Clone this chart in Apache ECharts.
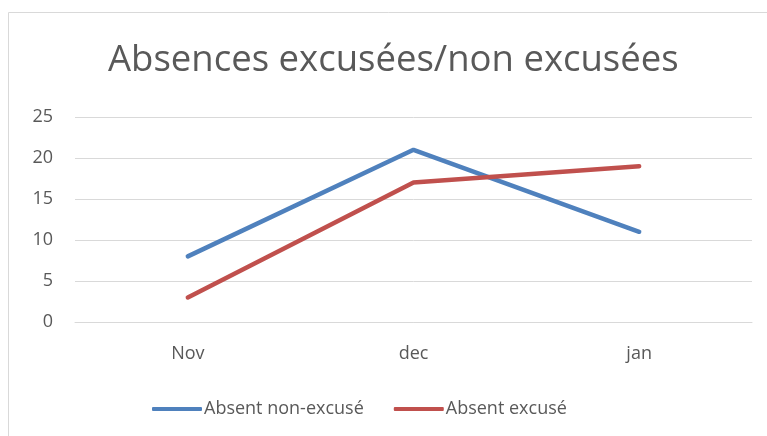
<!DOCTYPE html>
<html>
<head>
<meta charset="utf-8">
<script src="https://cdn.jsdelivr.net/npm/echarts@6/dist/echarts.min.js"></script>
<style>
  html, body { margin: 0; padding: 0; background: #fff; }
  #chart { width: 767px; height: 436px; }
</style>
</head>
<body>
<div id="chart"></div>
<script>
const months = ['Nov', 'dec', 'jan'];
const nonExcuse = [8, 21, 11];
const excuse = [3, 17, 19];

const chart = echarts.init(document.getElementById('chart'));
const font = 'Open Sans';

chart.setOption({
  animation: false,
  graphic: [{
    type: 'rect',
    shape: { x: 8.5, y: 12.5, width: 780, height: 440 },
    style: { fill: 'none', stroke: '#d9d9d9', lineWidth: 1 }
  }],
  title: {
    text: 'Absences excusées/non excusées',
    left: 103,
    top: 37,
    textStyle: { fontFamily: font, fontSize: 36.5, fontWeight: 'normal', color: '#595959' }
  },
  grid: { left: 75, right: 15, top: 117, bottom: 114 },
  legend: {
    top: 395,
    left: 147,
    itemGap: 30,
    itemWidth: 50,
    itemHeight: 4,
    icon: 'roundRect',
    textStyle: { fontFamily: font, fontSize: 18, color: '#595959', padding: [0, 0, 0, -3] },
    data: ['Absent non-excusé', 'Absent excusé']
  },
  xAxis: {
    type: 'category',
    data: months,
    boundaryGap: true,
    axisLine: { lineStyle: { color: '#d9d9d9' } },
    axisTick: { show: false },
    axisLabel: { fontFamily: font, fontSize: 18, color: '#595959', margin: 23 }
  },
  yAxis: {
    type: 'value',
    min: 0,
    max: 25,
    interval: 5,
    axisLine: { show: false },
    axisTick: { show: false },
    axisLabel: { fontFamily: font, fontSize: 18, color: '#595959', margin: 22 },
    splitLine: { lineStyle: { color: '#d9d9d9' } }
  },
  series: [
    {
      name: 'Absent non-excusé',
      type: 'line',
      data: nonExcuse,
      symbol: 'none',
      lineStyle: { width: 4.5, color: '#4f81bd', cap: 'round' },
      itemStyle: { color: '#4f81bd' }
    },
    {
      name: 'Absent excusé',
      type: 'line',
      data: excuse,
      symbol: 'none',
      lineStyle: { width: 4.5, color: '#c0504d', cap: 'round' },
      itemStyle: { color: '#c0504d' }
    }
  ]
});
</script>
</body>
</html>
